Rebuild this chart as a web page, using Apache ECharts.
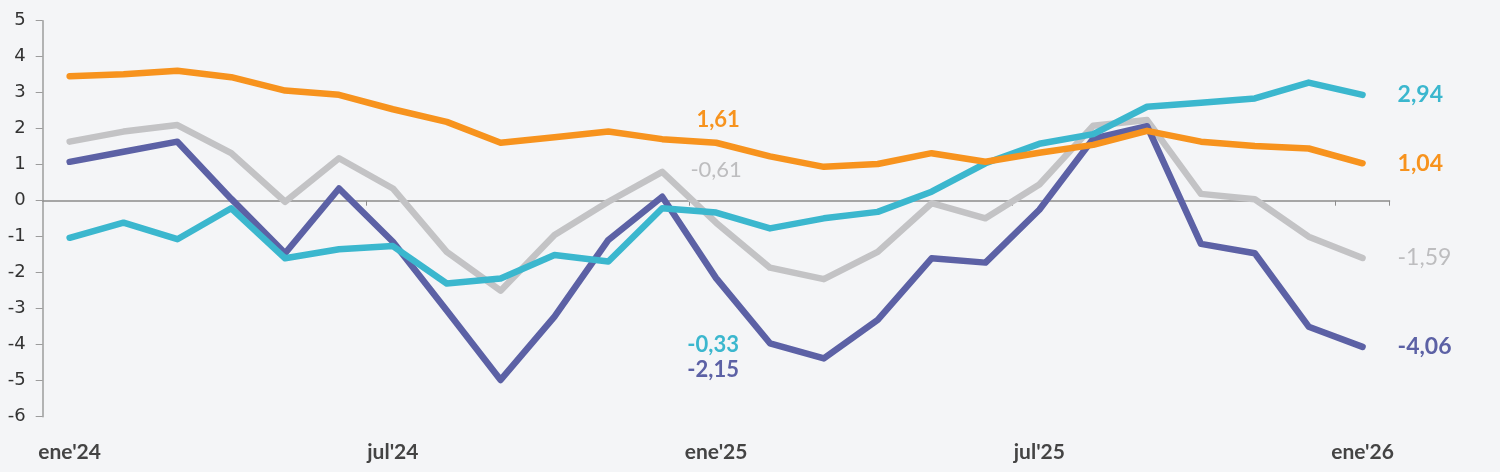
<!DOCTYPE html>
<html>
<head>
<meta charset="utf-8">
<script src="https://cdn.jsdelivr.net/npm/echarts@6/dist/echarts.min.js"></script>
<style>
  html, body { margin: 0; padding: 0; background: #F4F5F7; }
  #chart { width: 1500px; height: 472px; }
</style>
</head>
<body>
<div id="chart"></div>
<script>
const months = ["ene'24","feb'24","mar'24","abr'24","may'24","jun'24","jul'24","ago'24","sep'24","oct'24","nov'24","dic'24",
                "ene'25","feb'25","mar'25","abr'25","may'25","jun'25","jul'25","ago'25","sep'25","oct'25","nov'25","dic'25","ene'26"];

const orangeValues = [3.46, 3.51, 3.61, 3.43, 3.06, 2.94, 2.54, 2.19, 1.61, 1.76, 1.92, 1.71, 1.61, 1.23, 0.94, 1.02, 1.32, 1.08, 1.33, 1.55, 1.94, 1.64, 1.52, 1.45, 1.04];
const grayValues   = [1.64, 1.92, 2.10, 1.32, -0.03, 1.18, 0.34, -1.42, -2.50, -0.95, -0.03, 0.80, -0.61, -1.86, -2.18, -1.42, -0.07, -0.49, 0.45, 2.08, 2.24, 0.19, 0.04, -1.00, -1.59];
const navyValues   = [1.08, 1.36, 1.64, 0.05, -1.46, 0.34, -1.14, -3.05, -4.98, -3.22, -1.09, 0.11, -2.15, -3.96, -4.38, -3.31, -1.60, -1.72, -0.25, 1.72, 2.07, -1.20, -1.46, -3.50, -4.06];
const cyanValues   = [-1.03, -0.61, -1.07, -0.21, -1.60, -1.35, -1.26, -2.30, -2.16, -1.51, -1.69, -0.21, -0.33, -0.77, -0.49, -0.31, 0.25, 1.04, 1.58, 1.85, 2.61, 2.72, 2.84, 3.28, 2.94];

const yTicks = { min: -6, max: 5, step: 1 };

const COLORS = { orange: '#F7931E', gray: '#C3C3C5', navy: '#5C61A5', cyan: '#3BB7CE' };
const LABEL_COLORS = { orange: '#F7931E', gray: '#BDBDBF', navy: '#5C61A5', cyan: '#3BB7CE' };

function fmt(v) { return v.toFixed(2).replace('.', ','); }

function buildData(values, key, midOffset, bold) {
  const last = values.length - 1;
  const mid = 12;
  return values.map((v, i) => {
    const baseLbl = {
      show: true,
      formatter: fmt(v),
      color: LABEL_COLORS[key],
      fontFamily: 'Lato',
      fontWeight: bold ? 'bold' : 'normal',
      fontSize: 23
    };
    if (i === last) {
      return { value: v, label: Object.assign({}, baseLbl, { position: 'right', distance: 35 }) };
    }
    if (i === mid && midOffset) {
      return { value: v, label: Object.assign({}, baseLbl, { position: 'inside', offset: midOffset, fontSize: 22 }) };
    }
    return v;
  });
}

function lineSeries(name, values, key, midOffset, bold, z) {
  return {
    name: name,
    type: 'line',
    xAxisIndex: 0,
    yAxisIndex: 0,
    data: buildData(values, key, midOffset, bold),
    symbol: 'circle',
    symbolSize: 0,
    showSymbol: true,
    z: z,
    lineStyle: { color: COLORS[key], width: 6.5, cap: 'round', join: 'round' },
    itemStyle: { color: COLORS[key] },
    label: { show: false },
    emphasis: { disabled: true },
    silent: true
  };
}

const chart = echarts.init(document.getElementById('chart'), null, { renderer: 'canvas' });
chart.setOption({
  backgroundColor: '#F4F5F7',
  animation: false,
  grid: { left: 42.7, right: 110.5, top: 20.7, bottom: 55.3, containLabel: false },
  xAxis: [
    {
      type: 'category',
      data: months,
      boundaryGap: true,
      position: 'bottom',
      axisLine: { show: false, onZero: false },
      axisTick: { show: false },
      axisLabel: {
        interval: function (i) { return i % 6 === 0; },
        margin: 25,
        color: '#444444',
        fontFamily: 'Lato',
        fontWeight: 'bold',
        fontSize: 21
      },
      splitLine: { show: false }
    },
    {
      type: 'category',
      data: months,
      boundaryGap: true,
      position: 'top',
      axisLine: { show: true, onZero: true, lineStyle: { color: '#8C8C8C', width: 1.5 } },
      axisTick: {
        show: true,
        inside: true,
        length: 5,
        interval: function (i) { return i > 0 && i % 6 === 0; },
        lineStyle: { color: '#8C8C8C', width: 1 }
      },
      axisLabel: { show: false },
      splitLine: { show: false }
    }
  ],
  yAxis: {
    type: 'value',
    min: yTicks.min,
    max: yTicks.max,
    interval: yTicks.step,
    axisLine: { show: true, onZero: false, lineStyle: { color: '#9C9C9C', width: 1.5 } },
    axisTick: { show: true, length: 7, lineStyle: { color: '#9C9C9C', width: 1 } },
    axisLabel: {
      margin: 17,
      color: '#333333',
      fontFamily: 'DejaVu Sans',
      fontSize: 18
    },
    splitLine: { show: false }
  },
  series: [
    lineSeries('Gris', grayValues, 'gray', [0, -53], false, 2),
    lineSeries('Azul', navyValues, 'navy', [-3, 92], true, 3),
    lineSeries('Celeste', cyanValues, 'cyan', [-3, 132], true, 4),
    lineSeries('Naranja', orangeValues, 'orange', [2, -23], true, 5)
  ]
});
</script>
</body>
</html>
